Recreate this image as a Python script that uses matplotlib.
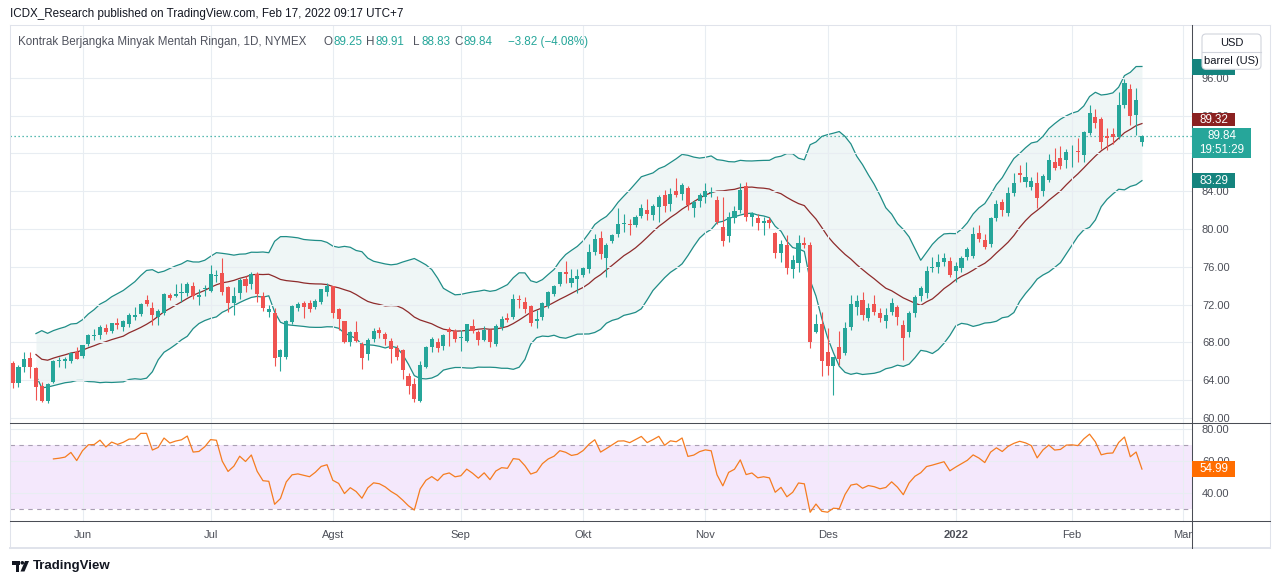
import matplotlib
matplotlib.use("Agg")
import matplotlib.pyplot as plt
import numpy as np
import pandas as pd
from matplotlib.lines import Line2D
from matplotlib.patches import Circle, FancyBboxPatch, Polygon, Rectangle
from matplotlib.transforms import IdentityTransform

plt.rcParams["font.family"] = ["Liberation Sans", "DejaVu Sans"]

# daily candles, 13 May 2021 .. 17 Feb 2022
opens = [
    65.80, 63.74, 65.43, 66.40, 65.30, 63.40, 61.80, 63.84, 66.00, 66.00,
    66.06, 67.00, 66.56, 67.83, 68.70, 68.78, 69.55, 69.20, 70.05, 69.66,
    69.95, 70.66, 71.00, 72.49, 71.60, 70.72, 71.08, 72.98, 72.88, 73.20,
    73.26, 73.97, 72.77, 73.65, 73.47, 75.00, 75.30, 73.83, 72.14, 73.20,
    74.67, 74.15, 75.20, 72.90, 71.20, 71.14, 66.42, 66.50, 70.20, 71.60,
    72.20, 72.20, 71.78, 72.30, 73.37, 73.97, 71.50, 70.26, 68.00, 69.10,
    67.83, 66.77, 68.36, 69.30, 68.89, 68.18, 67.44, 67.20, 64.44, 63.57,
    61.83, 65.43, 67.54, 68.07, 67.65, 69.39, 69.24, 68.50, 68.15, 69.74,
    69.13, 68.25, 69.30, 67.83, 69.60, 70.60, 70.72, 72.59, 72.30, 71.85,
    70.30, 70.72, 71.88, 73.12, 74.15, 75.42, 74.32, 74.74, 75.13, 75.77,
    77.53, 79.07, 76.96, 78.73, 79.47, 80.50, 80.53, 80.40, 81.38, 82.00,
    81.48, 82.36, 83.60, 82.60, 84.00, 83.67, 84.30, 82.20, 83.00, 83.35,
    83.80, 83.07, 80.18, 79.30, 81.13, 82.00, 84.55, 81.30, 81.20, 80.60,
    80.95, 79.54, 77.43, 78.30, 75.73, 76.37, 78.50, 78.30, 69.13, 70.00,
    66.95, 65.53, 67.48, 66.85, 69.66, 71.78, 72.46, 70.61, 72.03, 71.08,
    70.30, 71.25, 71.78, 69.84, 69.13, 71.14, 72.94, 73.26, 75.90, 76.00,
    76.50, 76.60, 75.60, 75.90, 77.07, 77.18, 79.54, 78.84, 78.38, 81.20,
    82.89, 81.66, 83.78, 85.96, 85.00, 84.48, 84.90, 84.05, 85.20, 87.06,
    87.50, 87.30, 88.10, 88.30, 87.83, 90.13, 91.90, 91.60, 89.87, 90.05,
    89.77, 93.10, 94.80, 92.06, 89.25,
]
highs = [
    66.00, 65.60, 67.00, 67.00, 65.40, 63.84, 63.70, 66.10, 66.50, 66.50,
    67.00, 67.55, 67.70, 68.90, 69.39, 69.80, 70.00, 70.10, 70.55, 70.40,
    71.10, 71.70, 72.20, 73.00, 72.30, 71.50, 73.20, 73.26, 74.20, 74.25,
    74.40, 74.40, 73.70, 74.10, 76.20, 75.66, 76.90, 74.00, 73.90, 74.80,
    75.00, 75.40, 75.50, 73.30, 71.96, 71.60, 67.30, 70.40, 72.00, 72.30,
    72.40, 72.50, 72.56, 73.70, 74.25, 74.00, 71.60, 70.30, 69.20, 70.26,
    68.00, 68.50, 69.50, 69.60, 69.13, 68.50, 67.72, 67.30, 64.80, 64.20,
    66.03, 67.60, 68.60, 68.50, 68.90, 69.60, 69.40, 69.30, 70.00, 70.44,
    69.30, 69.74, 69.40, 70.00, 70.80, 71.14, 73.12, 73.00, 72.80, 72.00,
    71.43, 72.30, 73.40, 74.10, 75.50, 76.60, 75.74, 75.74, 76.00, 78.40,
    79.44, 79.79, 78.50, 79.50, 82.19, 81.55, 81.10, 81.50, 82.65, 83.17,
    82.60, 83.60, 84.10, 84.30, 85.36, 84.83, 84.60, 83.07, 83.78, 84.83,
    84.48, 83.50, 83.42, 81.80, 82.40, 84.90, 85.00, 81.83, 81.60, 81.30,
    81.30, 79.70, 78.84, 79.37, 77.25, 79.37, 79.19, 78.66, 71.00, 71.19,
    69.49, 66.50, 69.20, 70.13, 73.00, 73.00, 73.30, 72.20, 73.00, 71.60,
    71.60, 72.67, 72.00, 70.40, 71.30, 73.00, 74.00, 76.08, 77.00, 77.35,
    77.43, 77.07, 76.54, 77.10, 78.10, 80.24, 80.40, 79.44, 81.30, 83.07,
    83.20, 84.48, 85.90, 86.77, 87.10, 85.50, 86.07, 85.80, 87.90, 88.60,
    88.77, 88.43, 88.90, 89.66, 90.40, 93.12, 92.67, 91.90, 90.66, 90.66,
    94.50, 95.84, 95.30, 94.90, 89.91,
]
lows = [
    63.20, 63.30, 64.90, 64.20, 61.90, 61.72, 61.60, 63.70, 65.43, 65.30,
    65.80, 66.20, 66.40, 67.60, 68.25, 68.40, 68.90, 69.00, 69.40, 69.20,
    69.60, 70.40, 70.80, 71.80, 69.80, 69.84, 70.90, 72.49, 72.80, 72.30,
    72.90, 72.60, 72.00, 72.90, 73.30, 74.42, 73.05, 71.25, 70.90, 72.60,
    73.30, 73.60, 72.30, 71.30, 70.72, 65.50, 65.00, 66.20, 69.90, 71.30,
    70.60, 71.20, 71.50, 72.10, 72.94, 70.55, 69.30, 67.90, 67.65, 68.00,
    65.20, 66.10, 68.00, 68.43, 67.72, 65.80, 66.14, 64.10, 62.50, 61.70,
    61.70, 65.30, 66.95, 66.95, 67.20, 67.65, 68.07, 67.10, 68.00, 69.03,
    67.72, 68.10, 67.54, 67.60, 69.30, 70.19, 70.50, 71.60, 71.08, 69.77,
    69.50, 70.40, 71.60, 72.90, 74.00, 74.25, 73.83, 73.20, 74.90, 75.38,
    77.30, 76.83, 74.95, 78.50, 79.20, 79.70, 79.37, 80.20, 81.20, 81.00,
    81.00, 80.77, 81.83, 81.90, 83.42, 83.07, 82.00, 81.30, 82.36, 82.79,
    83.42, 80.50, 78.20, 78.60, 80.60, 81.70, 80.90, 80.30, 79.89, 79.37,
    80.10, 76.90, 76.47, 75.20, 74.78, 75.40, 78.02, 67.44, 69.00, 64.48,
    64.55, 62.43, 65.60, 66.67, 69.30, 70.90, 70.37, 70.30, 70.86, 70.19,
    69.50, 70.90, 69.84, 66.10, 68.60, 70.70, 72.40, 72.70, 75.48, 75.38,
    76.08, 74.95, 74.36, 75.40, 76.70, 76.90, 78.66, 77.85, 78.10, 80.90,
    81.38, 81.40, 83.50, 85.00, 84.48, 84.10, 82.19, 83.50, 85.00, 86.20,
    86.30, 86.50, 86.60, 87.12, 87.10, 89.95, 90.66, 88.43, 88.36, 89.00,
    89.50, 92.80, 91.00, 90.00, 88.83,
]
closes = [
    63.74, 65.43, 66.20, 65.43, 63.30, 61.80, 63.60, 66.00, 66.10, 66.25,
    66.90, 66.25, 67.69, 68.75, 68.80, 69.66, 69.13, 70.05, 69.87, 70.26,
    70.87, 70.90, 72.06, 72.06, 70.90, 71.32, 73.12, 72.73, 73.12, 73.37,
    74.15, 72.90, 73.00, 73.79, 75.20, 75.15, 73.30, 72.14, 72.91, 74.60,
    74.00, 75.20, 73.10, 71.60, 71.50, 66.30, 67.20, 70.26, 71.85, 72.06,
    71.78, 71.50, 72.38, 73.60, 73.97, 71.14, 70.48, 68.07, 69.12, 68.18,
    66.38, 68.25, 69.24, 69.03, 68.33, 67.27, 66.42, 65.08, 63.39, 62.00,
    65.60, 67.48, 68.33, 67.37, 68.78, 69.13, 68.33, 68.55, 69.95, 69.20,
    68.25, 69.30, 68.00, 69.74, 70.48, 70.37, 72.60, 72.49, 71.50, 70.08,
    70.48, 72.20, 73.30, 73.97, 75.42, 75.20, 74.78, 75.03, 75.90, 77.53,
    78.90, 77.35, 78.30, 79.37, 80.53, 80.60, 80.40, 81.30, 82.25, 81.60,
    82.43, 83.42, 82.47, 83.70, 83.60, 84.66, 82.54, 82.83, 83.60, 84.00,
    83.90, 80.77, 78.76, 81.24, 81.90, 84.10, 81.30, 81.66, 80.67, 80.88,
    80.67, 77.50, 78.38, 75.90, 76.70, 78.50, 78.30, 68.07, 69.95, 66.06,
    65.53, 66.42, 66.20, 69.49, 72.03, 72.35, 70.90, 71.60, 71.25, 70.61,
    70.90, 72.14, 70.72, 68.50, 71.14, 72.84, 73.79, 75.56, 76.00, 76.47,
    76.96, 75.13, 76.08, 76.96, 77.88, 79.44, 78.90, 78.13, 81.13, 82.61,
    82.00, 83.78, 84.90, 85.70, 85.47, 85.08, 83.24, 85.60, 87.30, 86.50,
    86.70, 88.10, 88.20, 88.10, 90.30, 92.24, 91.20, 89.24, 89.66, 89.77,
    93.10, 95.40, 91.96, 93.65, 89.84,
]

first_day = "2021-05-13"
axis_end = "2022-03-01"
holidays = ["2021-05-31", "2021-07-05", "2021-09-06", "2021-11-25",
            "2021-12-24", "2022-01-17", "2022-02-21"]
month_labels = ["Jun", "Jul", "Agst", "Sep", "Okt", "Nov", "Des", "2022", "Feb", "Mar"]
price_ticks = [60, 64, 68, 72, 76, 80, 84, 88, 92, 96]
hidden_price_labels = [88]  # sits under the last-price tag in the original
rsi_ticks = [40, 60, 80]

W, H = 1280, 584
UP, DOWN = "#26a69a", "#ef5350"
BAND, BASIS = "#1f8d87", "#8e2b2b"
GRID = "#e8edf2"
TXT = "#4c4f58"
PX = IdentityTransform()
PRICE_LIM = (59.47, 101.59)
BB_SCALE_SHIFT = 1.9  # the bands sit on their own (shifted) price scale

o, h, l, c = (np.asarray(v) for v in (opens, highs, lows, closes))
idx = np.arange(len(c))

# indicators
s = pd.Series(c)
basis = s.rolling(20, min_periods=5).mean()
dev = s.rolling(20, min_periods=5).std(ddof=0)
upper, lower = basis + 2 * dev, basis - 2 * dev

delta = s.diff()
gain = delta.clip(lower=0).ewm(alpha=1 / 14, adjust=True, min_periods=7).mean()
loss = (-delta.clip(upper=0)).ewm(alpha=1 / 14, adjust=True, min_periods=7).mean()
rsi = 100 - 100 / (1 + gain / loss)

# month positions on the trading-day axis
cal = pd.offsets.CustomBusinessDay(holidays=holidays)
days = pd.date_range(first_day, axis_end, freq=cal)
month_pos = [i for i in range(1, len(days)) if days[i].month != days[i - 1].month]

fig = plt.figure(figsize=(W / 100, H / 100), dpi=100)
fig.patch.set_facecolor("white")


def frac(x0, y0, x1, y1):
    return [x0 / W, 1 - y1 / H, (x1 - x0) / W, (y1 - y0) / H]


ax = fig.add_axes(frac(10, 25, 1192, 423))
ax_rsi = fig.add_axes(frac(10, 423, 1192, 521), sharex=ax)

# bollinger bands on their own scale, behind the candles
ax_bb = ax.twinx()
ax_bb.set_zorder(ax.get_zorder() - 1)
ax.patch.set_visible(False)
ax_bb.set_facecolor("white")
ax_bb.fill_between(idx, lower, upper, color="#eff6f6", lw=0, zorder=1)
ax_bb.plot(idx, upper, color=BAND, lw=0.9, zorder=2)
ax_bb.plot(idx, lower, color=BAND, lw=0.9, zorder=2)
ax_bb.plot(idx, basis, color=BASIS, lw=0.9, zorder=2)
ax_bb.set_ylim(PRICE_LIM[0] - BB_SCALE_SHIFT, PRICE_LIM[1] - BB_SCALE_SHIFT)
ax_bb.set_yticks([])
for sp in ax_bb.spines.values():
    sp.set_visible(False)

# candles
col = np.where(c >= o, UP, DOWN)
ax.vlines(idx, l, h, colors=col, lw=0.8, zorder=3)
ax.bar(idx, np.maximum(np.abs(c - o), 0.08), bottom=np.minimum(o, c),
       width=0.7, color=col, lw=0, zorder=4)
ax.axhline(c[-1], color=UP, lw=0.9, ls=(0, (1, 2.2)), zorder=3)

ax.set_ylim(*PRICE_LIM)
ax.set_yticks(price_ticks)
ax.set_yticklabels(["" if v in hidden_price_labels else f"{v:.2f}" for v in price_ticks])

# RSI pane
ax_rsi.axhspan(30, 70, color="#f4e8fc", lw=0, zorder=0)
for lvl in (30, 70):
    ax_rsi.axhline(lvl, color="#a99fb3", lw=0.8, ls=(0, (4, 4)), zorder=1)
ax_rsi.plot(idx, rsi, color="#f57c20", lw=0.9, zorder=3)
ax_rsi.set_ylim(22.4, 84.0)
ax_rsi.set_yticks(rsi_ticks)
ax_rsi.set_yticklabels([f"{v:.2f}" for v in rsi_ticks])

ax.set_xlim(-0.46, 202.6)
ax_rsi.set_xticks(month_pos)
ax_rsi.set_xticklabels(month_labels)
for t in ax_rsi.get_xticklabels():
    if t.get_text() == "2022":
        t.set_fontweight("bold")

for a in (ax, ax_rsi):
    for sp in a.spines.values():
        sp.set_visible(False)
    a.yaxis.tick_right()
    a.tick_params(length=0, labelsize=8.0, labelcolor=TXT, pad=7.2)
    a.grid(True, color=GRID, lw=0.8)
    a.set_axisbelow(True)
ax.tick_params(axis="x", labelbottom=False)
ax_rsi.tick_params(axis="x", pad=6.4)


# frame and separators
def hline(y, x0, x1, color, lw=0.75):
    fig.add_artist(Line2D([x0, x1], [H - y, H - y], transform=PX, color=color, lw=lw, zorder=6))


def vline(x, y0, y1, color, lw=0.75):
    fig.add_artist(Line2D([x, x], [H - y0, H - y1], transform=PX, color=color, lw=lw, zorder=6))


hline(25, 10, 1270, "#e0e3eb")
hline(548, 10, 1270, "#e0e3eb", lw=1.4)
vline(10, 25, 548, "#e0e3eb")
vline(1270, 25, 548, "#e0e3eb")
hline(423, 10, 1270, "#4a4d55")
hline(521, 10, 1270, "#4a4d55")
vline(1192, 25, 548, "#4a4d55")


def tag(x0, y0, x1, y1, color, lines, size=8.4):
    fig.add_artist(Rectangle((x0, H - y1), x1 - x0, y1 - y0, transform=PX,
                             fc=color, ec="none", zorder=7))
    step = (y1 - y0) / max(len(lines), 1)
    for k, txt in enumerate(lines):
        fig.text((x0 + x1) / 2, H - (y0 + step * (k + 0.5)), txt, transform=PX,
                 ha="center", va="center", color="white", fontsize=size, zorder=8)


tag(1192, 59, 1235, 75, "#15847e", [])  # upper-band tag, its value hidden by the unit box
tag(1192, 113.3, 1235, 126.3, "#8b2121", ["89.32"])
tag(1192, 128.3, 1251, 157.7, UP, ["89.84", "19:51:29"])
tag(1192, 172.7, 1235, 188.3, "#15847e", ["83.29"])
tag(1192, 461, 1235, 477, "#ff6d00", ["54.99"])

fig.add_artist(FancyBboxPatch((1202, H - 69.3), 59, 35.3, transform=PX,
                              boxstyle="round,pad=0,rounding_size=4",
                              fc="white", ec="#d1d4dc", lw=0.8, zorder=9))
fig.add_artist(Line2D([1202, 1261], [H - 52, H - 52], transform=PX,
                      color="#d1d4dc", lw=0.8, zorder=10))
fig.text(1231.5, H - 43, "USD", transform=PX, ha="center", va="center",
         fontsize=8.0, color="#131722", zorder=10)
fig.text(1231.5, H - 60.5, "barrel (US)", transform=PX, ha="center", va="center",
         fontsize=8.0, color="#131722", zorder=10)

# header and legend
fig.text(10, H - 14, "ICDX_Research published on TradingView.com, Feb 17, 2022 09:17 UTC+7",
         transform=PX, va="center", fontsize=8.4, color="#131722")
legend = [
    (18, "Kontrak Berjangka Minyak Mentah Ringan, 1D, NYMEX", "#50535e"),
    (323, "O", "#50535e"), (333, "89.25", UP),
    (366, "H", "#50535e"), (376, "89.91", UP),
    (413, "L", "#50535e"), (421, "88.83", UP),
    (454, "C", "#50535e"), (464, "89.84", UP),
    (508, "\u22123.82 (\u22124.08%)", UP),
]
for x, txt, color in legend:
    fig.text(x, H - 42, txt, transform=PX, va="center", fontsize=8.4, color=color)

# TradingView mark
fig.add_artist(Rectangle((12, H - 564.5), 8, 3.5, transform=PX, fc="#131722", ec="none"))
fig.add_artist(Rectangle((15.5, H - 571.5), 3.5, 9, transform=PX, fc="#131722", ec="none"))
fig.add_artist(Circle((22.3, H - 562.8), 1.8, transform=PX, fc="#131722", ec="none"))
fig.add_artist(Polygon([(25, H - 561), (29, H - 561), (24.5, H - 571.5), (20.5, H - 571.5)],
                       closed=True, transform=PX, fc="#131722", ec="none"))
fig.text(33, H - 566, "TradingView", transform=PX, va="center", fontsize=9.5,
         fontweight="bold", color="#131722")

fig.savefig("out.png", dpi=100)
